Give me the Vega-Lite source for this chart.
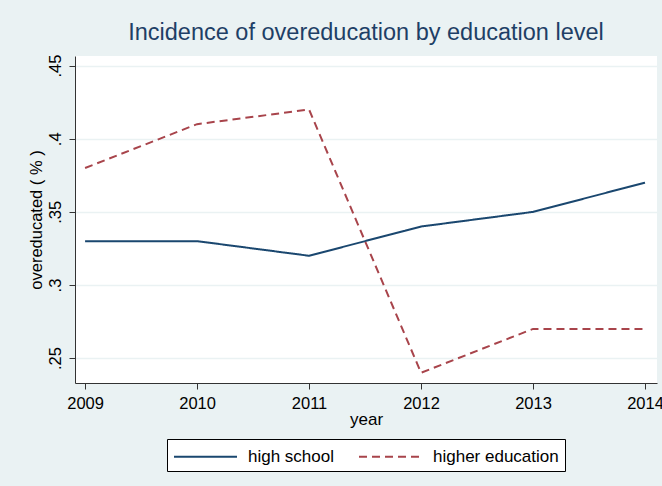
{
  "$schema": "https://vega.github.io/schema/vega-lite/v6.json",
  "autosize": "none",
  "width": 582,
  "height": 327,
  "padding": {"left": 75, "top": 56, "right": 5, "bottom": 103},
  "background": "#eaf2f3",
  "config": {
    "font": "Liberation Sans",
    "view": {"fill": "white", "stroke": null}
  },
  "title": {
    "text": "Incidence of overeducation by education level",
    "anchor": "middle",
    "fontSize": 23.5,
    "fontWeight": "normal",
    "color": "#1e3f66",
    "offset": 10
  },
  "data": {
    "values": [
      {"year": 2009, "group": "high school", "value": 0.33},
      {"year": 2010, "group": "high school", "value": 0.33},
      {"year": 2011, "group": "high school", "value": 0.32},
      {"year": 2012, "group": "high school", "value": 0.34},
      {"year": 2013, "group": "high school", "value": 0.35},
      {"year": 2014, "group": "high school", "value": 0.37},
      {"year": 2009, "group": "higher education", "value": 0.38},
      {"year": 2010, "group": "higher education", "value": 0.41},
      {"year": 2011, "group": "higher education", "value": 0.42},
      {"year": 2012, "group": "higher education", "value": 0.24},
      {"year": 2013, "group": "higher education", "value": 0.27},
      {"year": 2014, "group": "higher education", "value": 0.27}
    ]
  },
  "mark": {"type": "line", "strokeWidth": 2},
  "encoding": {
    "x": {
      "field": "year",
      "type": "quantitative",
      "scale": {"domain": [2008.91, 2014.107], "nice": false, "zero": false},
      "axis": {
        "values": [2009, 2010, 2011, 2012, 2013, 2014],
        "format": "d",
        "title": "year",
        "titleFontSize": 17,
        "titleFontWeight": "normal",
        "titleColor": "black",
        "titlePadding": 0,
        "labelFontSize": 16.5,
        "labelColor": "black",
        "labelPadding": 6,
        "tickSize": 6,
        "tickColor": "#333",
        "domainColor": "#333",
        "grid": false,
        "labelFlush": false
      }
    },
    "y": {
      "field": "value",
      "type": "quantitative",
      "scale": {"domain": [0.233, 0.4566], "nice": false, "zero": false},
      "axis": {
        "values": [0.25, 0.3, 0.35, 0.4, 0.45],
        "labelExpr": "replace(format(datum.value, '.2~f'), /^0/, '')",
        "title": "overeducated ( % )",
        "titleFontSize": 16.5,
        "titleFontWeight": "normal",
        "titleColor": "black",
        "titlePadding": 3,
        "labelFontSize": 16.5,
        "labelColor": "black",
        "labelAngle": -90,
        "labelAlign": "center",
        "labelBaseline": "bottom",
        "labelPadding": 6,
        "tickSize": 6,
        "tickColor": "#333",
        "domainColor": "#333",
        "grid": true,
        "gridColor": "#eaf2f3",
        "gridWidth": 1.5
      }
    },
    "color": {
      "field": "group",
      "type": "nominal",
      "scale": {"domain": ["high school", "higher education"], "range": ["#1a476f", "#a8444b"]},
      "legend": {
        "title": null,
        "orient": "none",
        "legendX": 92,
        "legendY": 383,
        "direction": "horizontal",
        "fillColor": "white",
        "strokeColor": "black",
        "padding": 6,
        "symbolType": "M-3,0L3,0",
        "symbolSize": 441,
        "symbolOffset": 21,
        "symbolStrokeWidth": 2,
        "labelFontSize": 17,
        "labelColor": "black",
        "labelOffset": 31,
        "columnPadding": 20
      }
    },
    "strokeDash": {
      "field": "group",
      "type": "nominal",
      "scale": {"domain": ["high school", "higher education"], "range": [[1, 0], [8, 5]]},
      "legend": null
    }
  }
}
